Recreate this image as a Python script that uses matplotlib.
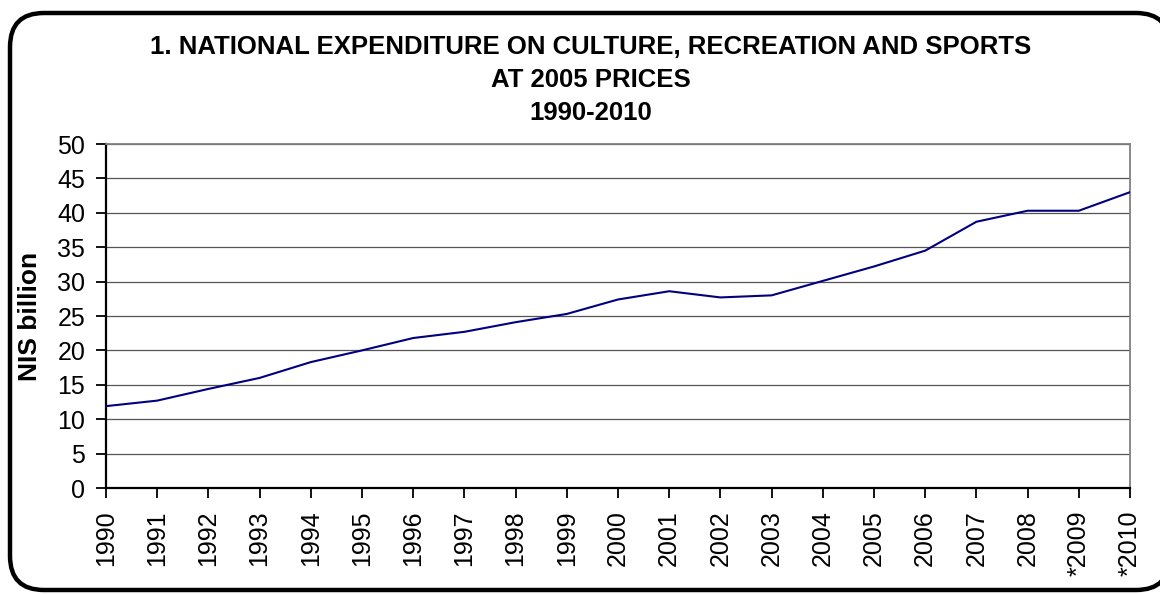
import matplotlib.pyplot as plt
from matplotlib.patches import FancyBboxPatch

years = [1990, 1991, 1992, 1993, 1994, 1995, 1996, 1997, 1998, 1999, 2000,
         2001, 2002, 2003, 2004, 2005, 2006, 2007, 2008, 2009, 2010]
year_labels = ["1990", "1991", "1992", "1993", "1994", "1995", "1996", "1997",
               "1998", "1999", "2000", "2001", "2002", "2003", "2004", "2005",
               "2006", "2007", "2008", "*2009", "*2010"]
expenditure = [11.9, 12.7, 14.4, 16.0, 18.3, 20.0, 21.8, 22.7, 24.1, 25.3, 27.4,
               28.6, 27.7, 28.0, 30.1, 32.2, 34.5, 38.7, 40.3, 40.3, 43.0]

title = "1. NATIONAL EXPENDITURE ON CULTURE, RECREATION AND SPORTS\nAT 2005 PRICES\n1990-2010"

plt.rcParams['font.family'] = ['Liberation Sans', 'DejaVu Sans']

W, H = 1160, 594
fig = plt.figure(figsize=(W / 100, H / 100), dpi=100)

# background layer in pixel units for the rounded frame
bg = fig.add_axes([0, 0, 1, 1])
bg.set_xlim(0, W)
bg.set_ylim(H, 0)
bg.axis('off')
frame = FancyBboxPatch((10, 13), 1160, 577, boxstyle="round,pad=0,rounding_size=34",
                       facecolor='white', edgecolor='black', linewidth=3.2)
bg.add_patch(frame)
bg.text(591, 80, title, ha='center', va='center', fontsize=18.5,
        fontweight='bold', linespacing=1.45)
bg.text(30, 316, "NIS billion", rotation=90, ha='center', va='center',
        fontsize=19, fontweight='bold')

# plot area
left, right, top, bottom = 106, 1130, 144, 488
ax = fig.add_axes([left / W, 1 - bottom / H, (right - left) / W, (bottom - top) / H])
ax.patch.set_alpha(0)
ax.plot(years, expenditure, color='#000080', linewidth=1.5, zorder=3)

ax.set_xlim(1990, 2010)
ax.set_ylim(0, 50)
ax.set_yticks(range(0, 51, 5))
ax.set_xticks(years)
ax.set_xticklabels(year_labels, rotation=90)
ax.yaxis.grid(True, color='#555555', linewidth=0.9)
ax.set_axisbelow(True)

ax.tick_params(axis='both', direction='out', length=7, width=1.3, labelsize=18, pad=8)
ax.tick_params(axis='x', pad=9)
for s in ['left', 'bottom']:
    ax.spines[s].set_color('black')
    ax.spines[s].set_linewidth(1.6)
for s in ['top', 'right']:
    ax.spines[s].set_color('#808080')
    ax.spines[s].set_linewidth(1.3)

fig.savefig("out.png", dpi=100)
